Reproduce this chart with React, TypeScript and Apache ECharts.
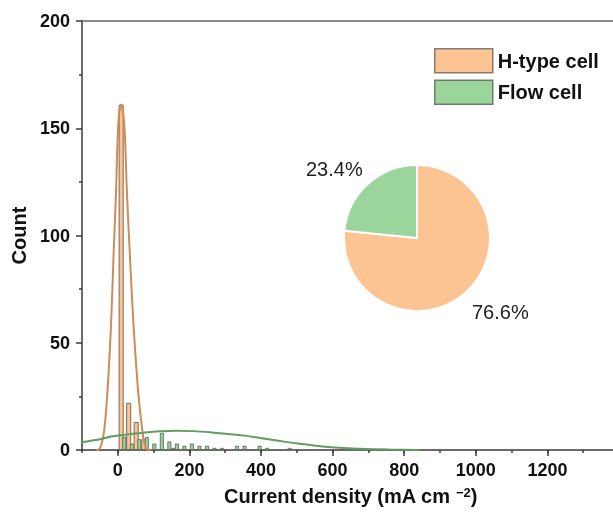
import React, { useEffect, useRef } from 'react';
import * as echarts from 'echarts';

// Histogram bins (bin centre, mA cm^-2) and counts
const hTypeBinCenters = [8, 29, 50, 71, 155];
const hTypeCounts = [161, 22, 13, 5, 1];
const flowBinCenters = [18, 39, 60, 81, 102, 123, 144, 165, 186, 207, 228, 249, 270, 291, 333, 354, 396, 417, 480, 648];
const flowCounts = [6, 3, 5, 6, 3, 8, 4, 3, 2, 3, 2, 2, 1, 1, 2, 2, 2, 1, 1, 1];

// Fitted distribution curves
const hTypeFitX = [-60, -50, -39, -29, -19, -12, -5, 1.4, 9, 18, 25.5, 34, 44, 57, 68, 78, 92];
const hTypeFitY = [0, 0.8, 8, 27, 58, 90, 120, 152, 161, 152, 120, 90, 58, 27, 10, 1, 0];
const flowFitX = [-102, -50, -14, 34, 78, 118, 161, 213, 263, 307, 356, 402, 449, 503, 559, 596, 643, 690, 759, 843];
const flowFitY = [3.6, 5.0, 6.4, 7.4, 8.2, 8.7, 9.0, 8.8, 8.2, 7.5, 6.7, 5.5, 4.3, 3.0, 1.9, 1.3, 0.8, 0.5, 0.2, 0.05];

// Pie shares (%)
const pieNames = ['H-type cell', 'Flow cell'];
const pieShares = [76.6, 23.4];

// Tick labels
const xTickValues = [0, 200, 400, 600, 800, 1000, 1200, 1400];
const yTickValues = [0, 50, 100, 150, 200];

const ORANGE = '#FCC492';
const GREEN = '#9BD59B';
const ORANGE_LINE = '#CC8D58';
const GREEN_LINE = '#5E9E5E';
const FONT = 'Arial, "Liberation Sans", sans-serif';
const AXIS = '#3a3a3a';

export default function App() {
  const ref = useRef<HTMLDivElement>(null);
  useEffect(() => {
    const chart = echarts.init(ref.current as HTMLDivElement, null, { renderer: 'svg' });
    chart.setOption({
      animation: false,
      textStyle: { fontFamily: FONT },
      grid: { left: 82, top: 21, right: -6, bottom: 63, containLabel: false, outerBoundsMode: 'none' },
      legend: {
        left: 434,
        top: 48,
        padding: 0,
        orient: 'vertical',
        itemWidth: 58,
        itemHeight: 24,
        itemGap: 6,
        icon: 'rect',
        selectedMode: false,
        textStyle: { fontSize: 20, fontWeight: 'bold', color: '#111', fontFamily: FONT },
        data: [
          { name: pieNames[0], itemStyle: { color: ORANGE, borderColor: '#8c7b6c', borderWidth: 1.5 } },
          { name: pieNames[1], itemStyle: { color: GREEN, borderColor: '#6c7d6c', borderWidth: 1.5 } },
        ],
      },
      xAxis: [
        {
          type: 'value',
          min: -100,
          max: 1400,
          interval: 100,
          position: 'bottom',
          axisLine: { show: true, onZero: false, lineStyle: { color: AXIS, width: 1.5 } },
          axisTick: { show: true, length: 3, lineStyle: { color: AXIS, width: 1.5 } },
          axisLabel: {
            formatter: (v: number) => (xTickValues.includes(v) && v < 1400 ? String(v) : ''),
            fontSize: 18,
            fontWeight: 'bold',
            color: '#111',
            margin: 11,
            fontFamily: FONT,
          },
          splitLine: { show: false },
          name: 'Current density (mA cm {sup|−2})',
          nameLocation: 'middle',
          nameGap: 36,
          nameTextStyle: {
            fontSize: 20,
            fontWeight: 'bold',
            color: '#111',
            fontFamily: FONT,
            rich: {
              sup: { fontSize: 13, fontWeight: 'bold', color: '#111', verticalAlign: 'top', fontFamily: FONT },
            },
          },
        },
        {
          type: 'value',
          min: -100,
          max: 1400,
          position: 'bottom',
          axisLine: { show: false, onZero: false },
          axisTick: { show: true, length: 6, customValues: xTickValues, lineStyle: { color: AXIS, width: 1.5 } },
          axisLabel: { show: false },
          splitLine: { show: false },
        },
        {
          type: 'value',
          min: -100,
          max: 1400,
          position: 'top',
          axisLine: { show: true, onZero: false, lineStyle: { color: '#666', width: 1.5 } },
          axisTick: { show: false },
          axisLabel: { show: false },
          splitLine: { show: false },
        },
      ],
      yAxis: {
        type: 'value',
        min: 0,
        max: 200,
        interval: 50,
        position: 'left',
        axisLine: { show: true, onZero: false, lineStyle: { color: AXIS, width: 1.5 } },
        axisTick: { show: true, length: 6, lineStyle: { color: AXIS, width: 1.5 } },
        minorTick: { show: true, splitNumber: 2, length: 3, lineStyle: { color: AXIS, width: 1.5 } },
        axisLabel: {
          formatter: (v: number) => (yTickValues.includes(v) ? String(v) : ''),
          fontSize: 18,
          fontWeight: 'bold',
          color: '#111',
          margin: 12,
          fontFamily: FONT,
        },
        splitLine: { show: false },
        minorSplitLine: { show: false },
        name: 'Count',
        nameLocation: 'middle',
        nameGap: 45,
        nameTextStyle: { fontSize: 20, fontWeight: 'bold', color: '#111', fontFamily: FONT },
      },
      series: [
        {
          name: pieNames[0],
          type: 'bar',
          xAxisIndex: 0,
          barWidth: 5,
          barGap: '-100%',
          itemStyle: { color: ORANGE, borderColor: '#6e5e50', borderWidth: 0.9 },
          data: hTypeBinCenters.map((x, i) => [x, hTypeCounts[i]]),
        },
        {
          name: pieNames[1],
          type: 'bar',
          xAxisIndex: 0,
          barWidth: 4,
          barGap: '-100%',
          itemStyle: { color: GREEN, borderColor: '#5f6e5f', borderWidth: 0.9 },
          data: flowBinCenters.map((x, i) => [x, flowCounts[i]]),
        },
        {
          name: 'H-type fit',
          type: 'line',
          xAxisIndex: 0,
          smooth: 0.35,
          showSymbol: false,
          lineStyle: { color: ORANGE_LINE, width: 2 },
          data: hTypeFitX.map((x, i) => [x, hTypeFitY[i]]),
        },
        {
          name: 'Flow fit',
          type: 'line',
          xAxisIndex: 0,
          smooth: 0.35,
          showSymbol: false,
          lineStyle: { color: GREEN_LINE, width: 2 },
          data: flowFitX.map((x, i) => [x, flowFitY[i]]),
        },
        {
          name: 'share',
          type: 'pie',
          center: [417, 238],
          radius: 73,
          startAngle: 90,
          clockwise: true,
          label: { show: false },
          labelLine: { show: false },
          emphasis: { disabled: true },
          itemStyle: { borderColor: '#fff', borderWidth: 2 },
          data: [
            { name: pieNames[0], value: pieShares[0], itemStyle: { color: ORANGE } },
            { name: pieNames[1], value: pieShares[1], itemStyle: { color: GREEN } },
          ],
        },
      ],
      graphic: [
        {
          type: 'text',
          left: 306,
          top: 159,
          style: { text: `${pieShares[1]}%`, fontSize: 20, fill: '#222', fontFamily: FONT },
        },
        {
          type: 'text',
          left: 472,
          top: 302,
          style: { text: `${pieShares[0]}%`, fontSize: 20, fill: '#222', fontFamily: FONT },
        },
      ],
    });
    return () => chart.dispose();
  }, []);
  return <div ref={ref} style={{ position: 'fixed', left: 0, top: 0, width: 613, height: 513 }} />;
}
